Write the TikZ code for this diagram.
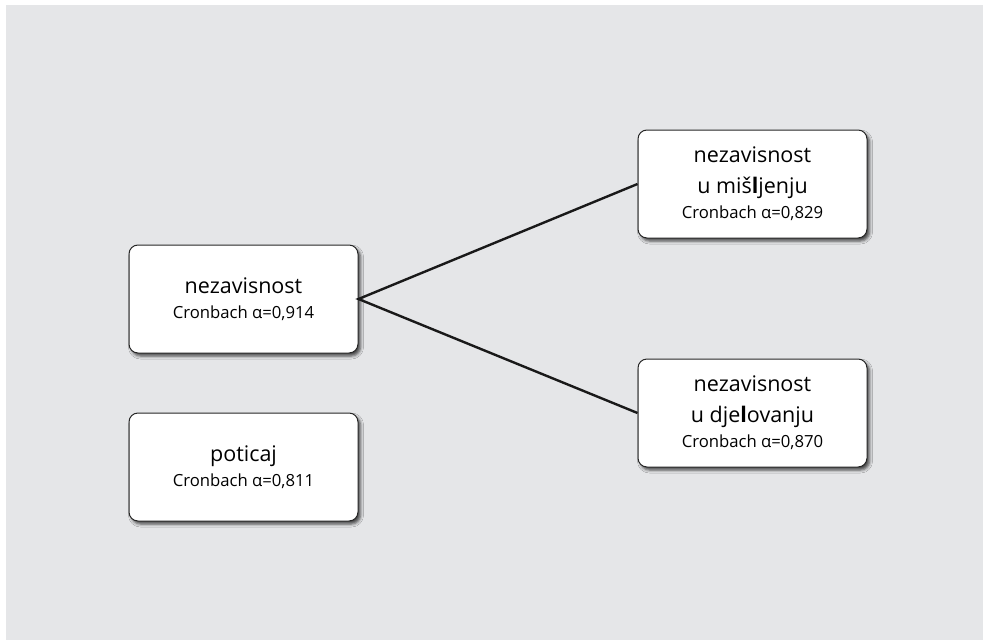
\documentclass[tikz,border=0pt]{standalone}
\usepackage{fontspec}
\setmainfont{Open Sans}
\usetikzlibrary{shadows.blur}
\definecolor{fondgris}{RGB}{229,230,232}
\tikzset{
  facteur/.style={draw=black!85, line width=1pt, fill=white,
    rounded corners=9pt, minimum width=229pt, minimum height=108pt,
    align=center, font=\fontsize{21.5}{31}\selectfont,
    blur shadow={shadow xshift=2.5pt, shadow yshift=-3pt,
      shadow blur radius=3pt, shadow opacity=70}},
  lien/.style={line width=2.4pt, black!90}
}
\newcommand{\cronbach}[1]{\\[-6pt]{\fontsize{16.7}{20}\selectfont Cronbach α=#1}}
\begin{document}
\begin{tikzpicture}[x=1pt,y=-1pt]
  \useasboundingbox (0,0) rectangle (983,640);
  \fill[fondgris] (6,5) rectangle (983,640);
  \node[facteur] (nez) at (243.5,299) {nezavisnost\cronbach{0,914}};
  \node[facteur] (pot) at (243.5,467) {poticaj\cronbach{0,811}};
  \node[facteur] (mis) at (752.5,184) {nezavisnost\\u miš\textbf{l}jenju\cronbach{0,829}};
  \node[facteur] (dje) at (752.5,413) {nezavisnost\\u dje\textbf{l}ovanju\cronbach{0,870}};
  % liens
  \draw[lien] (mis.west) -- (nez.east) -- (dje.west);
\end{tikzpicture}
\end{document}
